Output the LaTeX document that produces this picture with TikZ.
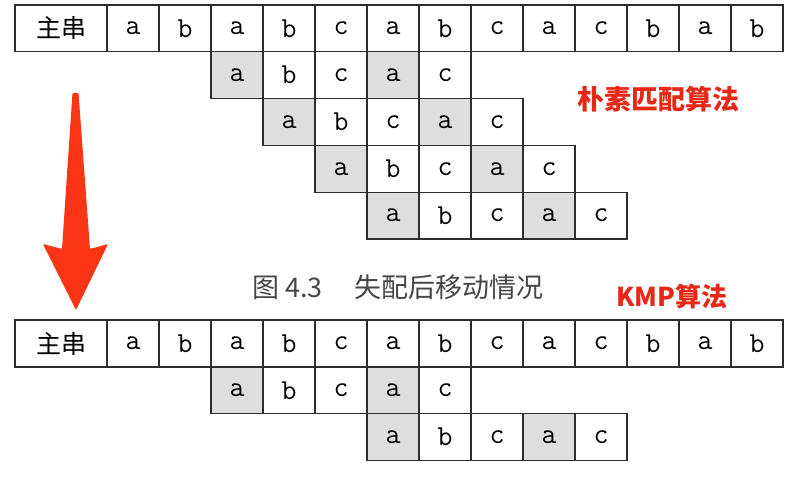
\documentclass[tikz,border=0pt]{standalone}
\usepackage{fontspec}
\newfontfamily\cjk{Noto Sans CJK SC}
\usetikzlibrary{positioning}

\definecolor{gridline}{RGB}{45,45,45}
\definecolor{hitgray}{RGB}{222,222,222}
\definecolor{markred}{RGB}{232,40,22}
\definecolor{arrowred}{RGB}{250,52,20}
\definecolor{captiongray}{RGB}{70,70,70}

\tikzset{
  cell/.style={draw=gridline,line width=1.3pt,minimum width=52pt,
    minimum height=46.8pt,inner sep=0pt,
    font=\fontsize{29}{29}\selectfont\ttfamily},
  hit/.style={cell,fill=hitgray},
  headcell/.style={cell,minimum width=92pt,
    font=\fontsize{25}{25}\selectfont\cjk},
  tag/.style={font=\fontsize{27}{27}\selectfont\cjk\bfseries,text=markred}
}

\begin{document}
\begin{tikzpicture}[x=1pt,y=-1pt]
  \useasboundingbox (0,0) rectangle (792,491);

  % naive matching: main string
  \node[headcell] (mainA) at (61,28.4) {主串};
  \foreach \ch [count=\i] in {a,b,a,b,c,a,b,c,a,c,b,a,b}
    \node[cell] (mainA-\i) at (81+52*\i,28.4) {\ch};

  % pattern shifted by one each time
  \foreach \r in {1,...,4}
    \foreach \ch/\st [count=\j] in {a/hit,b/cell,c/cell,a/hit,c/cell}
      \node[\st] (naive\r-\j) at ({81+52*(\r+1+\j)},{28.4+46.8*\r}) {\ch};

  \node[tag] (naiveTag) at (658,99) {朴素匹配算法};

  % big arrow
  \fill[arrowred,rounded corners=1pt] (72.5,93) -- (62,249) -- (43,244)
    -- (76,310) -- (108,244) -- (90,249) -- (78.5,93) -- cycle;

  \node[font=\fontsize{27}{27}\selectfont\cjk,text=captiongray]
    (caption) at (398,287) {图 4.3\hspace{1.2em}失配后移动情况};
  \node[tag,font=\fontsize{26}{26}\selectfont\cjk\bfseries] (kmpTag)
    at (672,296) {KMP算法};

  % KMP: main string
  \node[headcell] (mainB) at (61,343.5) {主串};
  \foreach \ch [count=\i] in {a,b,a,b,c,a,b,c,a,c,b,a,b}
    \node[cell] (mainB-\i) at (81+52*\i,343.5) {\ch};

  % pattern jumps by next[]
  \foreach \r/\s in {1/2,2/5}
    \foreach \ch/\st [count=\j] in {a/hit,b/cell,c/cell,a/hit,c/cell}
      \node[\st] (kmp\r-\j) at ({81+52*(\s+\j)},{343.5+46.8*\r}) {\ch};
\end{tikzpicture}
\end{document}
